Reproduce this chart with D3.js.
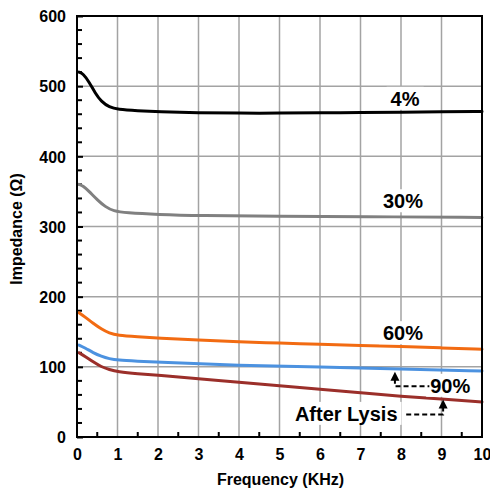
<!DOCTYPE html>
<html>
<head>
<meta charset="utf-8">
<script src="https://cdn.jsdelivr.net/npm/d3@7"></script>
<style>
  html, body { margin: 0; padding: 0; background: #fff; }
  svg { display: block; font-family: "Liberation Sans", Arial, sans-serif; font-weight: bold; }
</style>
</head>
<body>
<svg id="chart" width="490" height="491"></svg>
<script>
// Impedance vs frequency for different hematocrit dilutions
const xTicks = [0, 1, 2, 3, 4, 5, 6, 7, 8, 9, 10];
const yTicks = [0, 100, 200, 300, 400, 500, 600];
const xLabel = "Frequency (KHz)";
const yLabel = "Impedance (Ω)";

const freq4 = [0.05, 0.15, 0.3, 0.45, 0.6, 0.8, 1, 1.5, 2, 3, 4, 5, 6, 7, 8, 9, 10];
const imp4  = [520, 518, 506, 490, 478, 470, 467, 465, 463.5, 462, 461.5, 461.5, 462, 462.5, 463, 463.5, 464];

const freq30 = [0.05, 0.15, 0.3, 0.5, 0.7, 0.9, 1.2, 2, 3, 5, 7, 10];
const imp30  = [360, 358, 350, 338, 328, 322, 319.5, 317, 315.5, 314.5, 314, 313];

const freq60 = [0.05, 0.2, 0.4, 0.6, 0.8, 1, 1.5, 2, 3, 4, 5, 6, 7, 8, 9, 10];
const imp60  = [177, 171, 162, 154, 148, 145, 143, 141, 138, 135.5, 134, 132, 130.5, 129, 127, 125];

const freq90 = [0.05, 0.2, 0.4, 0.6, 0.8, 1, 1.5, 2, 4, 6, 8, 10];
const imp90  = [131, 127, 120, 115, 111.5, 109.5, 108, 106.5, 102, 100, 97, 94];

const freqLysis = [0.05, 0.2, 0.4, 0.6, 0.8, 1, 1.5, 2, 3, 4, 5, 6, 7, 8, 9, 10];
const impLysis  = [120, 115, 107, 100, 96, 93, 90, 88, 83, 78, 73, 68, 63, 58, 54, 50];

const seriesNames = ["4%", "30%", "60%", "90%", "After Lysis"];
const seriesColors = ["#000000", "#808080", "#f26b12", "#4c92e0", "#9b2f2a"];

const series = [
  { name: seriesNames[0], x: freq4, y: imp4, color: seriesColors[0] },
  { name: seriesNames[1], x: freq30, y: imp30, color: seriesColors[1] },
  { name: seriesNames[2], x: freq60, y: imp60, color: seriesColors[2] },
  { name: seriesNames[3], x: freq90, y: imp90, color: seriesColors[3] },
  { name: seriesNames[4], x: freqLysis, y: impLysis, color: seriesColors[4] }
];

const svg = d3.select("#chart");
const plotL = 77, plotR = 482, plotT = 16, plotB = 437;

const x = d3.scaleLinear().domain([0, 10]).range([plotL, plotR]);
const y = d3.scaleLinear().domain([0, 600]).range([plotB, plotT]);

// grid
const grid = svg.append("g").attr("stroke", "#a3a3a3").attr("stroke-width", 1.5);
grid.selectAll("line.v").data(xTicks.slice(1, -1)).join("line").attr("class", "v")
  .attr("x1", d => x(d)).attr("x2", d => x(d))
  .attr("y1", plotT).attr("y2", plotB);
grid.selectAll("line.h").data(yTicks.slice(1, -1)).join("line").attr("class", "h")
  .attr("x1", plotL).attr("x2", plotR)
  .attr("y1", d => y(d)).attr("y2", d => y(d));

// minor ticks (inside)
const yMinor = d3.range(0, 601, 20).filter(v => v % 100 !== 0);
svg.append("g").attr("stroke", "#000").attr("stroke-width", 2)
  .selectAll("line").data(yMinor).join("line")
  .attr("x1", plotL).attr("x2", plotL + 5)
  .attr("y1", d => y(d)).attr("y2", d => y(d));
const xMinor = d3.range(0.5, 10, 1);
svg.append("g").attr("stroke", "#000").attr("stroke-width", 2)
  .selectAll("line").data(xMinor).join("line")
  .attr("x1", d => x(d)).attr("x2", d => x(d))
  .attr("y1", plotB).attr("y2", plotB - 5);

// curves
const line = d3.line().curve(d3.curveBasis)
  .x(d => x(d[0])).y(d => y(d[1]));
svg.append("g").selectAll("path").data(series).join("path")
  .attr("fill", "none")
  .attr("stroke", d => d.color)
  .attr("stroke-width", 3)
  .attr("stroke-linecap", "round")
  .attr("d", d => line(d.x.map((v, i) => [v, d.y[i]])));

// frame
svg.append("rect").attr("x", plotL).attr("y", plotT)
  .attr("width", plotR - plotL).attr("height", plotB - plotT)
  .attr("fill", "none").attr("stroke", "#000").attr("stroke-width", 2);

// axes
const xAxis = d3.axisBottom(x).tickValues(xTicks).tickSize(0).tickPadding(0);
const gx = svg.append("g").attr("transform", `translate(0,${plotB})`).call(xAxis);
gx.select(".domain").remove();
gx.selectAll("text").attr("font-size", 16).attr("font-weight", "bold")
  .attr("font-family", "Liberation Sans, Arial, sans-serif")
  .attr("fill", "#000").attr("dy", null).attr("y", 23);

const yAxis = d3.axisLeft(y).tickValues(yTicks).tickSize(6).tickPadding(0);
const gy = svg.append("g").attr("transform", `translate(${plotL},0)`).call(yAxis);
gy.select(".domain").remove();
gy.selectAll("line").attr("x2", 6).attr("stroke", "#000").attr("stroke-width", 2);
gy.selectAll("text").attr("font-size", 16).attr("font-weight", "bold")
  .attr("font-family", "Liberation Sans, Arial, sans-serif")
  .attr("fill", "#000").attr("x", -11).attr("dy", "0.36em");

// axis titles
svg.append("text").attr("x", (plotL + plotR) / 2 + 1).attr("y", 485)
  .attr("text-anchor", "middle").attr("font-size", 16).text(xLabel);
svg.append("text")
  .attr("transform", `translate(22,229) rotate(-90)`)
  .attr("text-anchor", "middle").attr("font-size", 16).text(yLabel);

// series labels with white backing
const labels = [
  { text: "4%", xv: 8.1, yv: 472, anchor: "middle" },
  { text: "30%", xv: 8.05, yv: 326, anchor: "middle" },
  { text: "60%", xv: 8.05, yv: 138, anchor: "middle" },
  { text: "90%", xv: 8.72, yv: 63, anchor: "start" },
  { text: "After Lysis", xv: 5.38, yv: 23, anchor: "start" }
];
const lg = svg.append("g");
labels.forEach(l => {
  const t = lg.append("text").attr("x", x(l.xv)).attr("y", y(l.yv))
    .attr("text-anchor", l.anchor).attr("font-size", 20).text(l.text);
  const bb = t.node().getBBox();
  lg.insert("rect", "text").attr("x", bb.x - 4).attr("y", bb.y - 1)
    .attr("width", bb.width + 8).attr("height", bb.height + 1).attr("fill", "#fff");
});

// elbow arrows pointing at 90% and After Lysis curves
const arrows = [
  { xv: 7.85, tip: 93, elbow: 72.5, endX: 8.7 },
  { xv: 9.04, tip: 53.5, elbow: 32, endX: 8.1 }
];
const ag = svg.append("g");
arrows.forEach(a => {
  const ax = x(a.xv), tipY = y(a.tip), ey = y(a.elbow);
  ag.append("path")
    .attr("d", `M${ax},${tipY + 7}L${ax},${ey}L${x(a.endX)},${ey}`)
    .attr("fill", "none").attr("stroke", "#000").attr("stroke-width", 2)
    .attr("stroke-dasharray", "5,3");
  ag.append("path")
    .attr("d", `M${ax},${tipY}L${ax - 4.5},${tipY + 9}L${ax + 4.5},${tipY + 9}Z`)
    .attr("fill", "#000");
});
</script>
</body>
</html>
